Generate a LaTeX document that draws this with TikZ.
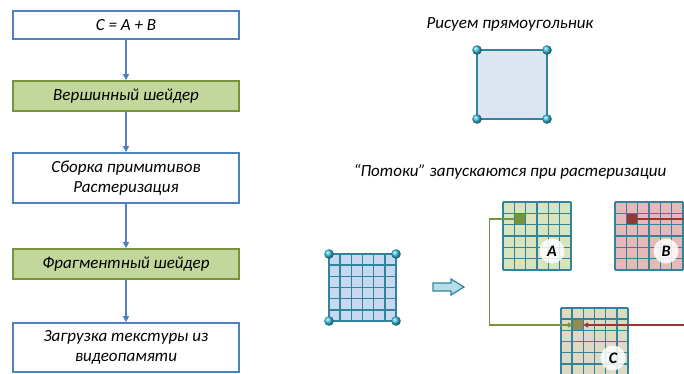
\documentclass[tikz,border=0pt]{standalone}
\usepackage{fontspec}
\setmainfont{Carlito}
\usetikzlibrary{arrows.meta}
\definecolor{flowblue}{HTML}{4F81BD}
\definecolor{shadergreen}{HTML}{C3D69B}
\definecolor{shaderedge}{HTML}{77933C}
\definecolor{quadfill}{HTML}{DCE6F2}
\definecolor{teal}{HTML}{31849B}
\definecolor{vertex}{HTML}{35BCDE}
\definecolor{gridblue}{HTML}{C6D9F1}
\definecolor{gridA}{HTML}{D7E4BD}
\definecolor{gridB}{HTML}{E6B9B8}
\definecolor{gridC}{HTML}{DDD9C3}
\definecolor{cellA}{HTML}{77933C}
\definecolor{cellB}{HTML}{953735}
\definecolor{cellC}{HTML}{948A54}
\definecolor{arrowfill}{HTML}{B7DEE8}

% 6 x 6 cell grid: origin x, origin y, cell size, fill colour
\newcommand\cellgrid[4]{%
  \fill[#4] (#1,#2) rectangle ++(6*#3,6*#3);
  \foreach \k in {0,...,6}{%
    \draw[gridline] (#1+\k*#3,#2) -- ++(0,6*#3);
    \draw[gridline] (#1,#2+\k*#3) -- ++(6*#3,0);
  }}
\newcommand\vball[1]{\shade[ball color=vertex] (#1) circle (4.8);}

\begin{document}
\begin{tikzpicture}[x=1pt,y=-1pt,
  flowbox/.style={draw=flowblue, line width=1.8pt, fill=white, minimum width=226pt,
    align=center, font=\fontsize{17}{20}\selectfont\itshape, inner sep=0pt},
  shaderbox/.style={flowbox, draw=shaderedge, fill=shadergreen},
  flowarrow/.style={draw=flowblue, line width=1.5pt, -{Triangle[length=6pt,width=6pt]}},
  caption/.style={font=\fontsize{17}{20}\selectfont\itshape},
  gridline/.style={draw=teal, line width=1.6pt},
  cellnode/.style={minimum size=10pt, inner sep=0pt},
  letter/.style={circle, fill=white, fill opacity=0.85, text opacity=1, minimum size=25pt,
    inner sep=0pt, font=\fontsize{16}{18}\selectfont\bfseries\itshape},
  link/.style={line width=1.3pt, -{Triangle[length=5pt,width=5pt]}}]
\useasboundingbox (0,0) rectangle (684,374);
\clip (0,0) rectangle (684,374);

% pipeline
\node[flowbox, minimum height=28pt] (b1) at (126,25) {C = A + B};
\node[shaderbox, minimum height=30pt] (b2) at (126,96) {Вершинный шейдер};
\node[flowbox, minimum height=50pt] (b3) at (126,178) {Сборка примитивов\\Растеризация};
\node[shaderbox, minimum height=30pt] (b4) at (126,264) {Фрагментный шейдер};
\node[flowbox, minimum height=49pt] (b5) at (126,347.5) {Загрузка текстуры из\\видеопамяти};
\draw[flowarrow] (b1) -- (b2);
\draw[flowarrow] (b2) -- (b3);
\draw[flowarrow] (b3) -- (b4);
\draw[flowarrow] (b4) -- (b5);

% rectangle with its four vertices
\node[caption] (t1) at (510,24) {Рисуем прямоугольник};
\draw[teal, line width=2pt, fill=quadfill] (477,50) rectangle (547,119);
\vball{477,50}\vball{547,50}\vball{477,119}\vball{547,119}

\node[caption] (t2) at (510,172) {“Потоки” запускаются при растеризации};

% rasterised rectangle
\cellgrid{329}{254}{11.17}{gridblue}
\vball{329,254}\vball{396,254}\vball{329,321}\vball{396,321}

% block arrow
\draw[teal, line width=1.2pt, fill=arrowfill, line join=miter]
  (433,283) -- (451,283) -- (451,279) -- (464,287) -- (451,295) -- (451,291) -- (433,291) -- cycle;

% texture grids with the sampled cells
\cellgrid{503}{202}{11.33}{gridA}
\fill[cellA] (514.3+0.8,213.3+0.8) rectangle ++(9.8,9.8);
\cellgrid{615}{202}{11.33}{gridB}
\fill[cellB] (626.3+0.8,213.3+0.8) rectangle ++(9.8,9.8);
\cellgrid{561}{308}{11.17}{gridC}
\fill[cellC] (572.2+0.8,319.2+0.8) rectangle ++(9.6,9.6);

\node[cellnode] (ca) at (520,219) {};
\node[cellnode] (cb) at (632,219) {};
\node[cellnode] (cc) at (578,325) {};

\node[letter] (la) at (552,251) {A};
\node[letter] (lb) at (666,251) {B};
\node[letter] (lc) at (613,358) {C};

\coordinate (redin) at (684,219);
\coordinate (redout) at (684,325);
\draw[link, cellA] (ca.west) -- ++(-25,0) |- (cc.west);
\draw[line width=1.3pt, cellB] (cb.east) -- (redin);
\draw[link, cellB] (redout) -- (cc.east);
\end{tikzpicture}
\end{document}
